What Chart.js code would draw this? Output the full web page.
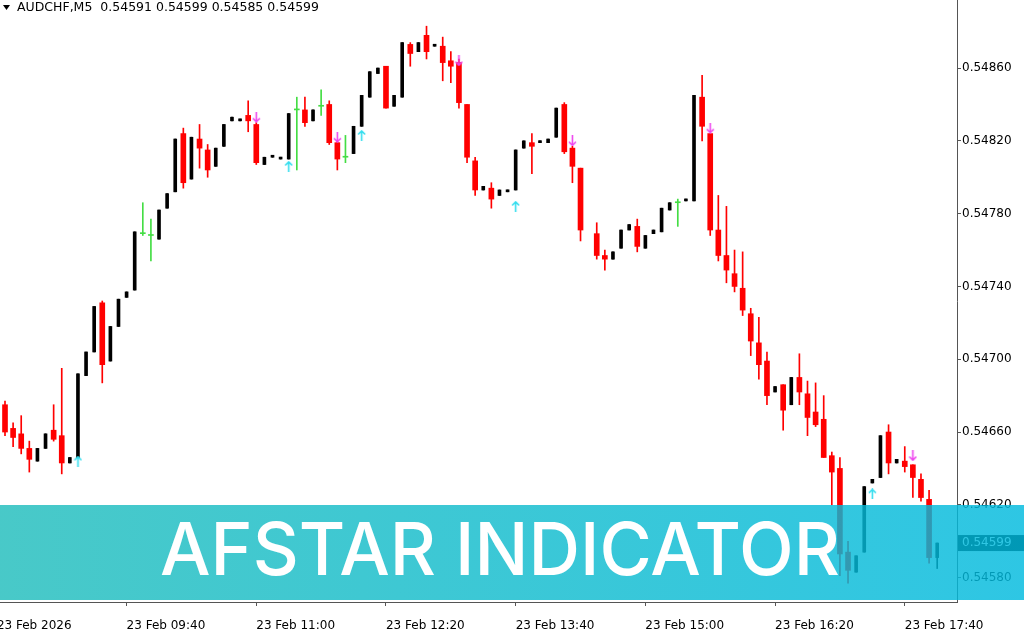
<!DOCTYPE html>
<html>
<head>
<meta charset="utf-8">
<script src="https://cdn.jsdelivr.net/npm/chart.js@4.4.1/dist/chart.umd.min.js"></script>
<style>
  html, body { margin: 0; padding: 0; background: #fff; overflow: hidden; }
  canvas { display: block; }
</style>
</head>
<body>
<canvas id="chart" width="1024" height="640"></canvas>
<script>
// AUDCHF M5, 23 Feb 2026, one entry per 5-minute bar starting 08:25 (bar 72 not drawn)
const barOpen = [
  0.54675, 0.54662, 0.54659, 0.54651, 0.54644, 0.54651, 0.54661, 0.54658, 0.54643, 0.54646,
  0.54691, 0.54704, 0.54731, 0.54699, 0.54718, 0.54734, 0.54738, 0.54769, 0.54768, 0.54766,
  0.54783, 0.54792, 0.54824, 0.54799, 0.54821, 0.54815, 0.54806, 0.54817, 0.54831, 0.54831,
  0.54834, 0.54829, 0.54807, 0.54811, 0.54810, 0.54810, 0.54837, 0.54837, 0.54831, 0.54839,
  0.54840, 0.54819, 0.54811, 0.54813, 0.54828, 0.54844, 0.54857, 0.54861, 0.54839, 0.54844,
  0.54873, 0.54869, 0.54878, 0.54872, 0.54872, 0.54864, 0.54863, 0.54840, 0.54809, 0.54793,
  0.54794, 0.54790, 0.54792, 0.54793, 0.54816, 0.54819, 0.54819, 0.54819, 0.54822, 0.54840,
  0.54816, 0.54805, null,    0.54769, 0.54757, 0.54755, 0.54761, 0.54771, 0.54773, 0.54761,
  0.54769, 0.54770, 0.54782, 0.54786, 0.54787, 0.54787, 0.54844, 0.54824, 0.54771, 0.54757,
  0.54747, 0.54739, 0.54725, 0.54709, 0.54699, 0.54682, 0.54686, 0.54675, 0.54690, 0.54681,
  0.54671, 0.54667, 0.54647, 0.54640, 0.54594, 0.54583, 0.54594, 0.54632, 0.54635, 0.54660,
  0.54643, 0.54644, 0.54642, 0.54634, 0.54623, 0.54591
];
const barHigh = [
  0.54677, 0.54665, 0.54669, 0.54655, 0.54651, 0.54659, 0.54675, 0.54695, 0.54646, 0.54692,
  0.54704, 0.54729, 0.54732, 0.54718, 0.54733, 0.54737, 0.54770, 0.54786, 0.54777, 0.54782,
  0.54791, 0.54821, 0.54827, 0.54822, 0.54829, 0.54818, 0.54816, 0.54829, 0.54833, 0.54832,
  0.54842, 0.54830, 0.54811, 0.54812, 0.54811, 0.54835, 0.54844, 0.54844, 0.54837, 0.54848,
  0.54842, 0.54820, 0.54823, 0.54828, 0.54845, 0.54858, 0.54860, 0.54861, 0.54845, 0.54874,
  0.54874, 0.54874, 0.54883, 0.54873, 0.54877, 0.54869, 0.54865, 0.54840, 0.54811, 0.54795,
  0.54797, 0.54793, 0.54793, 0.54815, 0.54820, 0.54824, 0.54820, 0.54821, 0.54838, 0.54841,
  0.54817, 0.54805, null,    0.54775, 0.54760, 0.54759, 0.54771, 0.54774, 0.54777, 0.54768,
  0.54771, 0.54783, 0.54786, 0.54788, 0.54788, 0.54845, 0.54856, 0.54824, 0.54790, 0.54784,
  0.54760, 0.54759, 0.54728, 0.54723, 0.54704, 0.54685, 0.54686, 0.54690, 0.54703, 0.54688,
  0.54687, 0.54680, 0.54649, 0.54646, 0.54600, 0.54592, 0.54630, 0.54634, 0.54658, 0.54664,
  0.54645, 0.54652, 0.54642, 0.54637, 0.54628, 0.54599
];
const barLow = [
  0.54658, 0.54652, 0.54648, 0.54638, 0.54644, 0.54651, 0.54655, 0.54637, 0.54643, 0.54646,
  0.54691, 0.54704, 0.54687, 0.54699, 0.54718, 0.54734, 0.54738, 0.54768, 0.54754, 0.54766,
  0.54783, 0.54792, 0.54794, 0.54799, 0.54805, 0.54800, 0.54806, 0.54817, 0.54831, 0.54831,
  0.54825, 0.54807, 0.54807, 0.54811, 0.54810, 0.54810, 0.54804, 0.54828, 0.54831, 0.54834,
  0.54818, 0.54804, 0.54808, 0.54813, 0.54828, 0.54844, 0.54857, 0.54838, 0.54839, 0.54844,
  0.54861, 0.54869, 0.54865, 0.54872, 0.54853, 0.54852, 0.54838, 0.54808, 0.54790, 0.54793,
  0.54783, 0.54790, 0.54792, 0.54793, 0.54816, 0.54802, 0.54819, 0.54819, 0.54822, 0.54813,
  0.54797, 0.54765, null,    0.54755, 0.54749, 0.54755, 0.54761, 0.54771, 0.54759, 0.54761,
  0.54769, 0.54770, 0.54782, 0.54773, 0.54787, 0.54787, 0.54820, 0.54768, 0.54754, 0.54742,
  0.54737, 0.54724, 0.54702, 0.54689, 0.54675, 0.54682, 0.54661, 0.54675, 0.54675, 0.54658,
  0.54663, 0.54646, 0.54620, 0.54581, 0.54577, 0.54583, 0.54594, 0.54632, 0.54635, 0.54637,
  0.54643, 0.54638, 0.54624, 0.54622, 0.54588, 0.54585
];
const barClose = [
  0.54660, 0.54657, 0.54651, 0.54645, 0.54651, 0.54659, 0.54656, 0.54643, 0.54646, 0.54692,
  0.54704, 0.54729, 0.54697, 0.54718, 0.54733, 0.54737, 0.54770, 0.54769, 0.54768, 0.54782,
  0.54791, 0.54821, 0.54797, 0.54822, 0.54816, 0.54804, 0.54816, 0.54829, 0.54833, 0.54832,
  0.54831, 0.54808, 0.54811, 0.54812, 0.54811, 0.54835, 0.54837, 0.54830, 0.54837, 0.54839,
  0.54819, 0.54810, 0.54811, 0.54828, 0.54845, 0.54858, 0.54860, 0.54838, 0.54845, 0.54874,
  0.54868, 0.54874, 0.54869, 0.54873, 0.54863, 0.54861, 0.54841, 0.54811, 0.54793, 0.54795,
  0.54788, 0.54793, 0.54793, 0.54815, 0.54820, 0.54817, 0.54820, 0.54821, 0.54838, 0.54814,
  0.54806, 0.54771, null,    0.54757, 0.54755, 0.54759, 0.54771, 0.54774, 0.54762, 0.54768,
  0.54771, 0.54783, 0.54786, 0.54786, 0.54788, 0.54845, 0.54828, 0.54771, 0.54757, 0.54749,
  0.54740, 0.54727, 0.54710, 0.54697, 0.54680, 0.54685, 0.54672, 0.54690, 0.54682, 0.54668,
  0.54664, 0.54646, 0.54638, 0.54593, 0.54584, 0.54592, 0.54630, 0.54634, 0.54658, 0.54643,
  0.54645, 0.54641, 0.54635, 0.54624, 0.54591, 0.54599
];

// signal arrows (bar index, price)
const sellArrowBar = [31, 41, 56, 70, 87, 112];
const sellArrowPrice = [0.54833, 0.54822, 0.54864, 0.54820, 0.54827, 0.54647];
const buyArrowBar = [9, 35, 44, 63, 107];
const buyArrowPrice = [0.54644, 0.54806, 0.54823, 0.54784, 0.54626];

// axis labels
const timeTickBar = [-1, 15, 31, 47, 63, 79, 95, 111];
const timeTickLabel = ['23 Feb 2026', '23 Feb 09:40', '23 Feb 11:00', '23 Feb 12:20',
  '23 Feb 13:40', '23 Feb 15:00', '23 Feb 16:20', '23 Feb 17:40'];
const priceTicks = [0.54580, 0.54620, 0.54660, 0.54700, 0.54740, 0.54780, 0.54820, 0.54860];
const topPriceTick = 0.54900; // cut off at the top edge

const lastPrice = 0.54599;
const headerText = 'AUDCHF,M5  0.54591 0.54599 0.54585 0.54599';
const bannerText = 'AFSTAR INDICATOR';

const RED = '#ff0000', BLACK = '#000000', GREEN = '#44dd44';

const bars = barOpen.map((v, i) => i).filter(i => barOpen[i] !== null);
const kind = i => barClose[i] > barOpen[i] ? 'bull' : (barClose[i] < barOpen[i] ? 'bear' : 'doji');
const bodyOf = i => ({ x: i, y: [barOpen[i], barClose[i]] });

function arrowImage(color, down) {
  const c = document.createElement('canvas');
  c.width = 9; c.height = 11;
  const g = c.getContext('2d');
  g.strokeStyle = color;
  g.lineWidth = 1.6;
  g.beginPath();
  if (down) {
    g.moveTo(4.5, 0); g.lineTo(4.5, 10);
    g.moveTo(1, 6.5); g.lineTo(4.5, 10); g.lineTo(8, 6.5);
  } else {
    g.moveTo(4.5, 11); g.lineTo(4.5, 1);
    g.moveTo(1, 4.5); g.lineTo(4.5, 1); g.lineTo(8, 4.5);
  }
  g.stroke();
  return c;
}

const overlay = {
  id: 'overlay',
  afterDraw(chart) {
    const ctx = chart.ctx;
    const y = chart.scales.y;
    ctx.save();

    // price label half hidden at the top edge
    const ty = y.getPixelForValue(topPriceTick);
    ctx.strokeStyle = '#555';
    ctx.beginPath(); ctx.moveTo(957, ty); ctx.lineTo(961, ty); ctx.stroke();
    ctx.fillStyle = '#000';
    ctx.font = '12px "DejaVu Sans"';
    ctx.textBaseline = 'middle';
    ctx.textAlign = 'left';
    ctx.fillText(topPriceTick.toFixed(5), 962, ty);

    // current price box on the price scale
    const py = y.getPixelForValue(lastPrice);
    ctx.fillStyle = '#000';
    ctx.fillRect(958, py - 8, 66, 16);
    ctx.fillStyle = '#fff';
    ctx.fillText(lastPrice.toFixed(5), 962, py);

    // banner
    const grad = ctx.createLinearGradient(0, 0, 1024, 0);
    grad.addColorStop(0, 'rgba(32,189,188,0.82)');
    grad.addColorStop(1, 'rgba(0,186,222,0.82)');
    ctx.fillStyle = grad;
    ctx.fillRect(0, 505, 1024, 95);

    ctx.fillStyle = '#fff';
    ctx.font = '500 73px Inter';
    ctx.textBaseline = 'alphabetic';
    const w = ctx.measureText(bannerText).width;
    ctx.translate(160, 575);
    ctx.scale(680 / w, 1);
    ctx.fillText(bannerText, 0, 0);
    ctx.restore();

    // header
    ctx.save();
    ctx.fillStyle = '#000';
    ctx.beginPath();
    ctx.moveTo(3, 5); ctx.lineTo(10, 5); ctx.lineTo(6.5, 10); ctx.closePath();
    ctx.fill();
    ctx.font = '12.5px "DejaVu Sans"';
    ctx.textBaseline = 'middle';
    ctx.fillText(headerText, 17, 8);
    ctx.restore();
  }
};

Chart.defaults.font.family = '"DejaVu Sans", sans-serif';
Chart.defaults.font.size = 12;
Chart.defaults.color = '#000';

new Chart(document.getElementById('chart'), {
  type: 'bar',
  data: {
    datasets: [
      {
        label: 'wicks',
        data: bars.map(i => ({ x: i, y: [barLow[i], barHigh[i]] })),
        backgroundColor: bars.map(i => ({ bull: BLACK, bear: RED, doji: GREEN })[kind(i)]),
        barThickness: 1,
        grouped: false,
        order: 3
      },
      {
        label: 'bear',
        data: bars.filter(i => kind(i) === 'bear').map(bodyOf),
        backgroundColor: RED,
        barThickness: 5,
        minBarLength: 2,
        grouped: false,
        order: 2
      },
      {
        label: 'bull',
        data: bars.filter(i => kind(i) === 'bull').map(bodyOf),
        backgroundColor: BLACK,
        barThickness: 3,
        minBarLength: 2,
        grouped: false,
        order: 2
      },
      {
        label: 'doji',
        data: bars.filter(i => kind(i) === 'doji').map(bodyOf),
        backgroundColor: GREEN,
        barThickness: 5,
        minBarLength: 1,
        grouped: false,
        order: 2
      },
      {
        type: 'scatter',
        label: 'sell',
        data: sellArrowBar.map((b, j) => ({ x: b, y: sellArrowPrice[j] })),
        pointStyle: arrowImage('#ee44ee', true),
        order: 1
      },
      {
        type: 'scatter',
        label: 'buy',
        data: buyArrowBar.map((b, j) => ({ x: b, y: buyArrowPrice[j] })),
        pointStyle: arrowImage('#33ddee', false),
        order: 1
      }
    ]
  },
  options: {
    responsive: false,
    animation: false,
    layout: { padding: 0, autoPadding: false },
    plugins: { legend: { display: false }, tooltip: { enabled: false } },
    scales: {
      x: {
        type: 'linear',
        position: 'bottom',
        min: -0.617,
        max: 117.444,
        bounds: 'data',
        offset: false,
        grid: { offset: false, drawOnChartArea: false, drawTicks: true, tickLength: 4, color: '#555' },
        border: { display: true, color: '#555' },
        ticks: {
          autoSkip: false,
          maxRotation: 0,
          minRotation: 0,
          align: 'start',
          padding: 13,
          callback: v => timeTickLabel[timeTickBar.indexOf(v)] || ''
        },
        afterBuildTicks: s => { s.ticks = timeTickBar.map(v => ({ value: v })); },
        afterFit: s => { s.height = 38; s.paddingLeft = 0; s.paddingRight = 0; }
      },
      y: {
        type: 'linear',
        position: 'right',
        min: 0.545666,
        max: 0.548974,
        bounds: 'data',
        grid: { drawOnChartArea: false, drawTicks: true, tickLength: 4, color: '#555' },
        border: { display: true, color: '#555' },
        ticks: { padding: 1, callback: v => v.toFixed(5) },
        afterBuildTicks: s => { s.ticks = priceTicks.map(v => ({ value: v })); },
        afterFit: s => { s.width = 67; s.paddingTop = 0; s.paddingBottom = 0; }
      }
    }
  },
  plugins: [overlay]
});
</script>
</body>
</html>
